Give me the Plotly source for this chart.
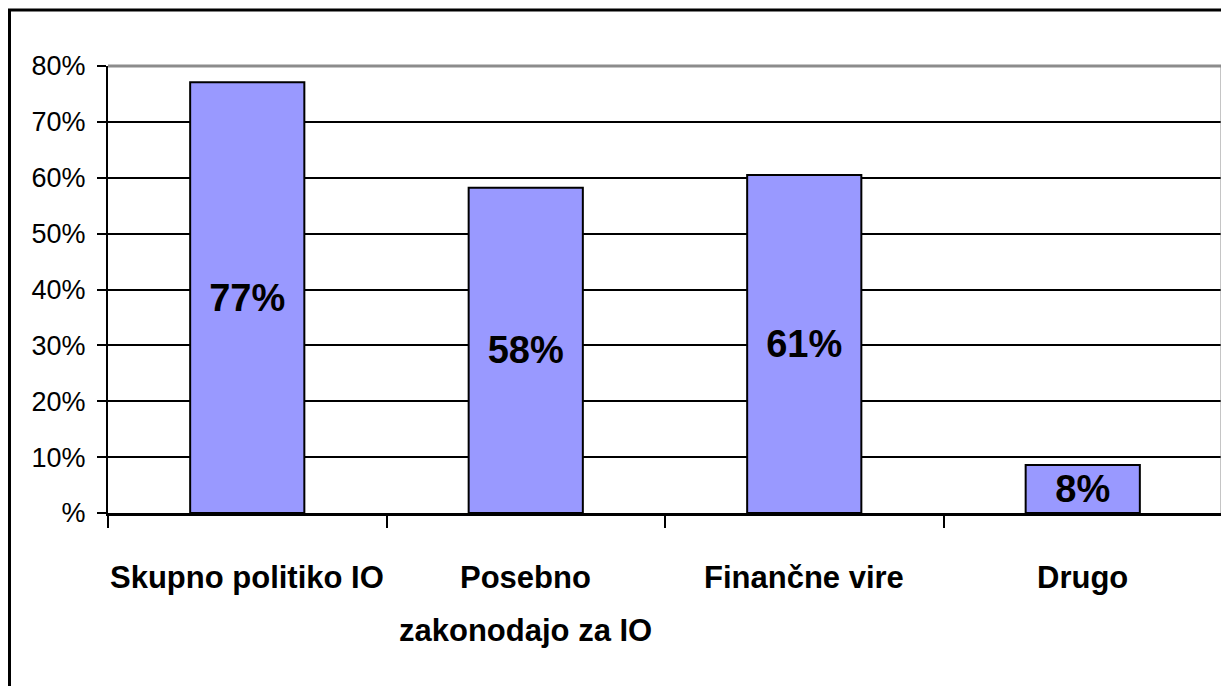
import plotly.graph_objects as go

categories = ["Skupno politiko IO", "Posebno<br>zakonodajo za IO", "Finančne vire", "Drugo"]
values = [0.771, 0.582, 0.605, 0.086]
value_labels = ["77%", "58%", "61%", "8%"]
y_tickvals = [0, 0.1, 0.2, 0.3, 0.4, 0.5, 0.6, 0.7, 0.8]
y_ticktext = ["%", "10%", "20%", "30%", "40%", "50%", "60%", "70%", "80%"]

FONT = "Liberation Sans, Arial, sans-serif"

W, H = 1229, 686
OFF = 8  # page body margin
L, T = 108 - OFF, 66 - OFF
R = W - (1222 - OFF)
B = H - (513 - OFF)
pw, ph = W - L - R, H - T - B

def px_x(x):
    return (x - OFF - L) / pw

def px_y(y):
    return (H - B - (y - OFF)) / ph

fig = go.Figure(go.Bar(
    x=categories, y=values,
    text=value_labels,
    textposition="inside", insidetextanchor="middle",
    textfont=dict(family=FONT, size=38, color="black", weight="bold"),
    marker=dict(color="#9999FF", line=dict(color="black", width=2)),
    width=0.41,
    hoverinfo="skip",
))

annotations = []
for cat in categories:
    for i, line in enumerate(cat.split("<br>")):
        annotations.append(dict(
            x=cat, xref="x", y=px_y(577 + 53 * i), yref="paper",
            text=line, showarrow=False, xanchor="center", yanchor="middle",
            font=dict(family=FONT, size=31, color="black", weight="bold"),
        ))

fig.update_layout(
    width=W, height=H,
    margin=dict(l=L, r=R, t=T, b=B, autoexpand=False),
    paper_bgcolor="white", plot_bgcolor="white",
    showlegend=False,
    uniformtext=dict(minsize=38, mode="show"),
    font=dict(family=FONT, color="black"),
    xaxis=dict(
        type="category", tickson="boundaries", automargin=False,
        ticks="outside", ticklen=12, tickwidth=2, tickcolor="black",
        showline=True, linecolor="black", linewidth=3,
        showgrid=False, showticklabels=False,
    ),
    yaxis=dict(
        range=[0, 0.8], tickvals=y_tickvals, ticktext=y_ticktext, automargin=False,
        ticks="outside", ticklen=9, tickwidth=2, tickcolor="black",
        showline=True, linecolor="black", linewidth=2,
        showgrid=True, gridcolor="black", gridwidth=2,
        zeroline=False,
        tickfont=dict(family=FONT, size=27, color="black"),
        ticklabelstandoff=6,
    ),
    annotations=annotations,
    shapes=[
        dict(type="line", xref="paper", yref="paper", x0=0, x1=1, y0=1, y1=1,
             line=dict(color="#8c8c8c", width=3)),
        dict(type="line", xref="paper", yref="paper", x0=1, x1=1, y0=0, y1=1,
             line=dict(color="#8c8c8c", width=3)),
        dict(type="rect", xref="paper", yref="paper",
             x0=px_x(9.5), x1=px_x(1260), y0=px_y(720), y1=px_y(10),
             line=dict(color="black", width=3), fillcolor="rgba(0,0,0,0)"),
    ],
)

fig.write_html("out.html")
